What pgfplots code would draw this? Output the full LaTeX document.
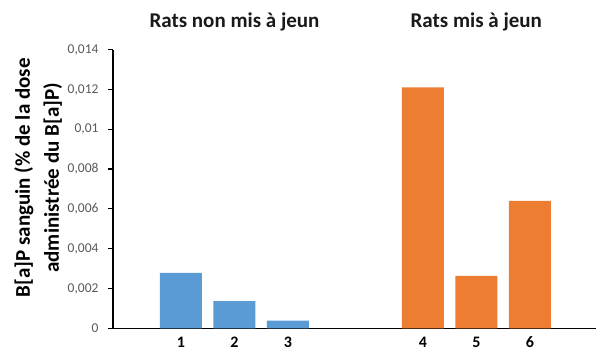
\documentclass[border=0pt]{standalone}
\usepackage{pgfplots}
\pgfplotsset{compat=1.18}
\usepackage{fontspec}
\setmainfont{Carlito}
\definecolor{barblue}{HTML}{5B9BD5}
\definecolor{barorange}{HTML}{ED7D31}
\definecolor{ticklbl}{HTML}{595959}
\begin{document}
\begin{tikzpicture}
\useasboundingbox (-113bp,-22.7bp) rectangle (484bp,328.3bp);
\begin{axis}[
  at={(0,0)}, anchor=south west,
  scale only axis, width=483bp, height=278.6bp,
  xmin=-0.271, xmax=8.757, ymin=0, ymax=0.014,
  axis lines*=left,
  axis line style={black, line width=1.2bp},
  ybar, bar width=42bp, /pgf/bar shift=0pt,
  xtick={1,2,3,5.52,6.52,7.52},
  xticklabels={1,2,3,4,5,6},
  major x tick style={draw=none},
  extra x ticks={-0.271,4.271,8.757},
  extra x tick labels={},
  extra x tick style={major tick length=6bp, tick align=outside, tick style={black, line width=1.2bp, draw=black}},
  x tick label style={font=\fontsize{16bp}{18bp}\selectfont\bfseries, text=black, yshift=0bp},
  scaled y ticks=false,
  ytick={0,0.002,0.004,0.006,0.008,0.01,0.012,0.014},
  yticklabels={{0},{0,002},{0,004},{0,006},{0,008},{0,01},{0,012},{0,014}},
  y tick label style={font=\fontsize{13.5bp}{15bp}\selectfont, text=ticklbl, xshift=-6bp},
  ytick style={black, line width=1.2bp},
  tick align=outside, major tick length=5bp,
  ylabel={B[a]P sanguin (\% de la dose\\administrée du B[a]P)},
  ylabel style={font=\fontsize{21bp}{29bp}\selectfont\bfseries, align=center, at={(rel axis cs:-0.155,0.54)}, anchor=center},
  clip=false,
]
\addplot[fill=barblue, draw=none] coordinates {(1,0.00279) (2,0.00137) (3,0.00038)};
\addplot[fill=barorange, draw=none] coordinates {(5.52,0.01211) (6.52,0.00264) (7.52,0.0064)};
\node[font=\fontsize{21bp}{25bp}\selectfont\bfseries, text=black!90] at ([yshift=27.7bp]axis cs:2,0.014) {Rats non mis à jeun};
\node[font=\fontsize{21bp}{25bp}\selectfont\bfseries, text=black!90] at ([yshift=27.7bp]axis cs:6.52,0.014) {Rats mis à jeun};
\end{axis}
\end{tikzpicture}
\end{document}
